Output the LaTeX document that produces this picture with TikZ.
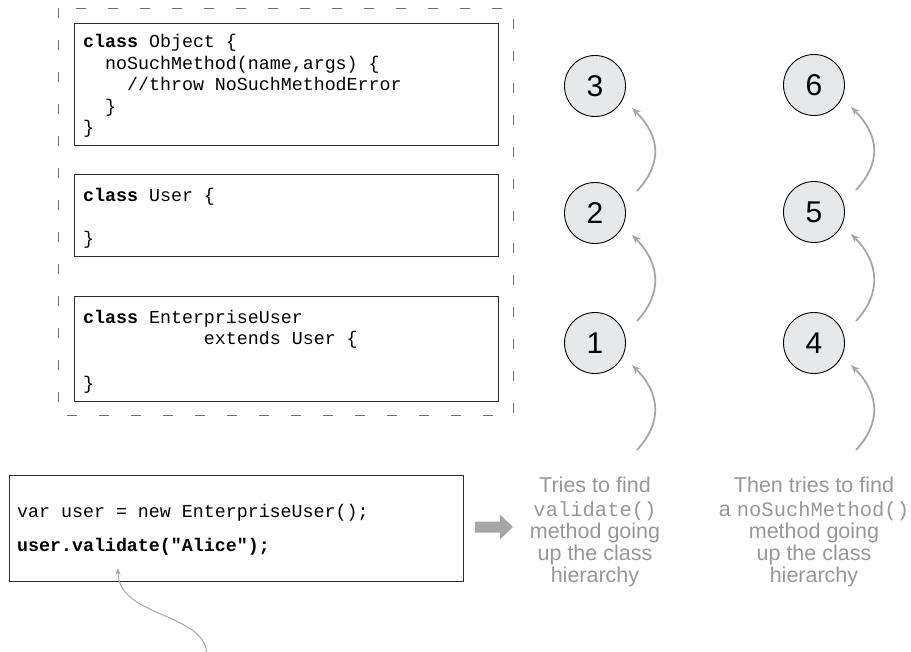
\documentclass[tikz,border=0pt]{standalone}
\usepackage{fontspec}
\setmainfont{Liberation Sans}
\setmonofont{Liberation Mono}
\usetikzlibrary{arrows.meta,calc}
\definecolor{arrgray}{RGB}{165,166,168}
\definecolor{txtgray}{RGB}{150,151,153}
\definecolor{circfill}{RGB}{231,232,233}
\definecolor{boxline}{RGB}{45,45,45}
\definecolor{dashgray}{RGB}{110,110,110}
\newcommand\notettfont{\fontsize{20.5}{24}\selectfont\ttfamily}
\begin{document}
\begin{tikzpicture}[x=1pt,y=-1pt,
  codebox/.style={draw=boxline, line width=1.3pt, rectangle, anchor=north west, inner sep=0pt},
  codeline/.style={anchor=base west, inner sep=0pt, font=\fontsize{18.3}{20}\selectfont\ttfamily},
  stepcirc/.style={circle, draw=black, line width=0.9pt, fill=circfill, minimum size=61pt, inner sep=0pt, font=\fontsize{30}{30}\selectfont},
  hop/.style={draw=arrgray, line width=1.8pt, -{Stealth[length=9pt,width=7pt]}},
  pointer/.style={draw=arrgray, line width=1pt, -{Stealth[length=7pt,width=5pt]}},
  note/.style={anchor=base, inner sep=0pt, text=txtgray, font=\fontsize{21.5}{24}\selectfont},
]
\useasboundingbox (0,0) rectangle (911,652);

% dashed frame around the class hierarchy
\draw[dashgray, line width=0.6pt, dash pattern=on 10pt off 22pt] (58,8) rectangle (513,415);

% class boxes
\node[codebox, minimum width=424pt, minimum height=122pt] (objbox) at (74,23) {};
\node[codebox, minimum width=424pt, minimum height=82pt] (userbox) at (74,174) {};
\node[codebox, minimum width=424pt, minimum height=105pt] (entbox) at (74,296) {};
\node[codebox, minimum width=454pt, minimum height=106pt] (mainbox) at (9,475) {};

% Object class text
\node[codeline] (o1) at (83,48) {\textbf{class} Object \{};
\node[codeline] (o2) at (83,69.5) {\hphantom{xx}noSuchMethod(name,args) \{};
\node[codeline] (o3) at (83,91) {\hphantom{xxxx}//throw NoSuchMethodError};
\node[codeline] (o4) at (83,112.5) {\hphantom{xx}\}};
\node[codeline] (o5) at (83,134) {\}};

% User class text
\node[codeline] (u1) at (83,202) {\textbf{class} User \{};
\node[codeline] (u2) at (83,245) {\}};

% EnterpriseUser class text
\node[codeline] (e1) at (83,324) {\textbf{class} EnterpriseUser};
\node[codeline] (e2) at (83,345) {\hphantom{xxxxxxxxxxx}extends User \{};
\node[codeline] (e3) at (83,390) {\}};

% main code
\node[codeline] (m1) at (17,517) {var user = new EnterpriseUser();};
\node[codeline] (m2) at (17,551) {\textbf{user.validate("Alice");}};

% circles
\node[stepcirc] (c1) at (595,343) {1};
\node[stepcirc] (c2) at (595,213) {2};
\node[stepcirc] (c3) at (595,86) {3};
\node[stepcirc] (c4) at (814,343) {4};
\node[stepcirc] (c5) at (814,212) {5};
\node[stepcirc] (c6) at (814,85) {6};

% hop arrows
\coordinate (s1x) at ($(c1.center)+(42,107)$);
\draw[hop] (s1x) .. controls ($(s1x)+(26,-28)$) and ($(c1.center)+(65,50)$) .. ($(c1.center)+(37,22)$);
\draw[hop] ($(c1.center)+(42,-22)$) .. controls ($(c1.center)+(68,-50)$) and ($(c2.center)+(65,50)$) .. ($(c2.center)+(37,22)$);
\draw[hop] ($(c2.center)+(42,-22)$) .. controls ($(c2.center)+(68,-50)$) and ($(c3.center)+(65,50)$) .. ($(c3.center)+(37,22)$);
\coordinate (s4x) at ($(c4.center)+(42,107)$);
\draw[hop] (s4x) .. controls ($(s4x)+(26,-28)$) and ($(c4.center)+(65,50)$) .. ($(c4.center)+(37,22)$);
\draw[hop] ($(c4.center)+(42,-22)$) .. controls ($(c4.center)+(68,-50)$) and ($(c5.center)+(65,50)$) .. ($(c5.center)+(37,22)$);
\draw[hop] ($(c5.center)+(42,-22)$) .. controls ($(c5.center)+(68,-50)$) and ($(c6.center)+(65,50)$) .. ($(c6.center)+(37,22)$);

% block arrow
\fill[arrgray] (475,521.5) -- (500,521.5) -- (500,514.5) -- (513,527) -- (500,539.5) -- (500,532.5) -- (475,532.5) -- cycle;

% notes
\node[note] (t1) at (595,493) {Tries to find};
\node[note] (t2) at (595,516) {\notettfont validate()};
\node[note] (t3) at (595,538) {method going};
\node[note] (t4) at (595,560) {up the class};
\node[note] (t5) at (595,582) {hierarchy};
\node[note] (r1) at (814,493) {Then tries to find};
\node[note] (r2) at (814,516) {a {\notettfont noSuchMethod()}};
\node[note] (r3) at (814,538) {method going};
\node[note] (r4) at (814,560) {up the class};
\node[note] (r5) at (814,582) {hierarchy};

% pointer to validate call
\coordinate (pfoot) at (207,656);
\coordinate (ptip) at ($(m2.base west)+(101,17)$);
\draw[pointer] (pfoot) .. controls (207,612) and (118,618) .. (ptip);
\end{tikzpicture}
\end{document}
